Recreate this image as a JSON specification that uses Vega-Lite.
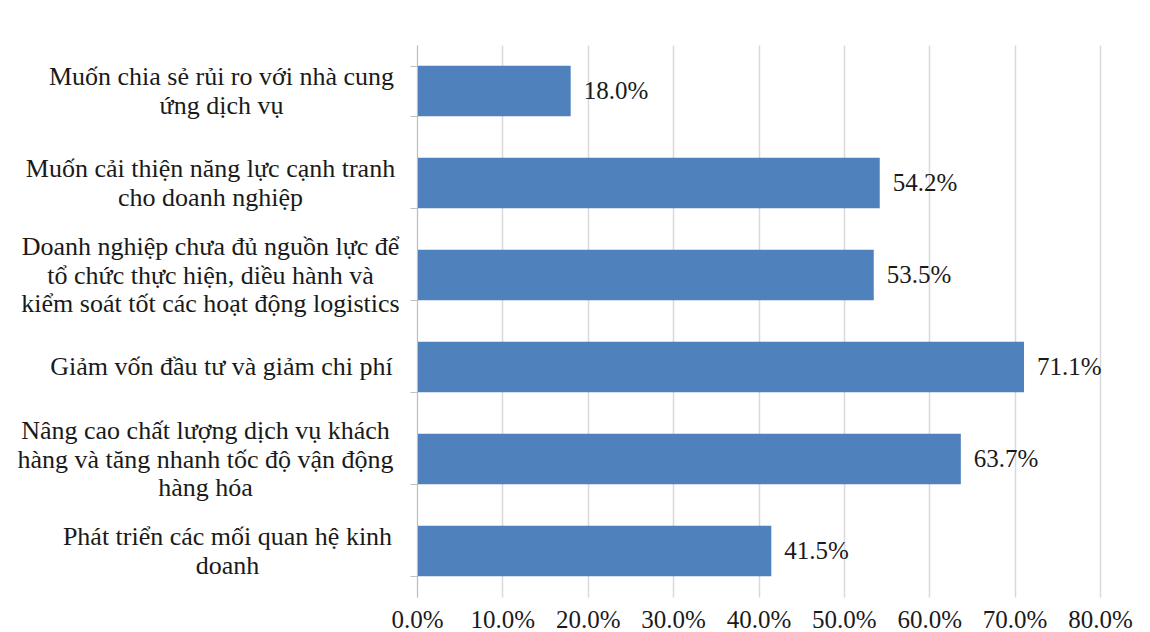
{
  "$schema": "https://vega.github.io/schema/vega-lite/v6.json",
  "width": 683,
  "height": 552,
  "autosize": {"type": "none"},
  "padding": {"left": 417, "top": 45, "right": 50, "bottom": 35},
  "background": "white",
  "config": {"view": {"stroke": null}, "font": "Liberation Serif"},
  "data": {
    "values": [
      {"label": "Muốn chia sẻ rủi ro với nhà cung|ứng dịch vụ", "value": 0.18},
      {"label": "Muốn cải thiện năng lực cạnh tranh|cho doanh nghiệp", "value": 0.542},
      {"label": "Doanh nghiệp chưa đủ nguồn lực để|tổ chức thực hiện, diều hành và|kiểm soát tốt các hoạt động logistics", "value": 0.535},
      {"label": "Giảm vốn đầu tư và giảm chi phí", "value": 0.711},
      {"label": "Nâng cao chất lượng dịch vụ khách|hàng và tăng nhanh tốc độ vận động|hàng hóa", "value": 0.637},
      {"label": "Phát triển các mối quan hệ kinh|doanh", "value": 0.415}
    ]
  },
  "encoding": {
    "x": {
      "field": "value",
      "type": "quantitative",
      "scale": {"domain": [0, 0.8]},
      "axis": {
        "title": null,
        "values": [0, 0.1, 0.2, 0.3, 0.4, 0.5, 0.6, 0.7, 0.8],
        "format": ".1%",
        "domain": false,
        "ticks": false,
        "grid": true,
        "gridColor": "#d9d9d9",
        "gridWidth": 1.5,
        "labelFontSize": 25,
        "labelPadding": 10,
        "labelColor": "#1a1a1a",
        "labelFlush": false,
        "labelOverlap": false,
        "labelFont": "Liberation Serif"
      }
    }
  },
  "layer": [
    {
      "mark": {"type": "bar", "color": "#4F81BD"},
      "encoding": {
        "y": {
          "field": "label",
          "type": "nominal",
          "sort": null,
          "scale": {"paddingInner": 0.45, "paddingOuter": 0.225},
          "axis": {
            "title": null,
            "orient": "left",
            "labels": false,
            "tickSize": 7,
            "tickBand": "extent",
            "domainColor": "#bfbfbf",
            "tickColor": "#bfbfbf",
            "zindex": 1
          }
        }
      }
    },
    {
      "mark": {"type": "text", "align": "left", "baseline": "middle", "dx": 13, "fontSize": 25, "color": "#1a1a1a", "font": "Liberation Serif"},
      "encoding": {
        "y": {
          "field": "label",
          "type": "nominal",
          "sort": null,
          "axis": {
            "title": null,
            "orient": "left",
            "domain": false,
            "ticks": false,
            "labelExpr": "split(datum.value, '|')",
            "labelAlign": "center",
            "labelBaseline": "middle",
            "labelPadding": {"expr": "indexof(datum.value, 'Muốn chia') == 0 ? 196 : indexof(datum.value, 'Muốn cải') == 0 ? 207 : indexof(datum.value, 'Doanh') == 0 ? 207 : indexof(datum.value, 'Nâng') == 0 ? 212 : indexof(datum.value, 'Phát') == 0 ? 190 : 196"},
            "labelOffset": {"expr": "-(length(split(datum.value, '|')) - 1) * 14"},
            "labelFontSize": 26,
            "labelLineHeight": 28.5,
            "labelColor": "#1a1a1a",
            "labelLimit": 0,
            "labelFont": "Liberation Serif"
          }
        },
        "text": {"field": "value", "type": "quantitative", "format": ".1%"}
      }
    }
  ],
  "resolve": {"axis": {"y": "independent"}}
}
